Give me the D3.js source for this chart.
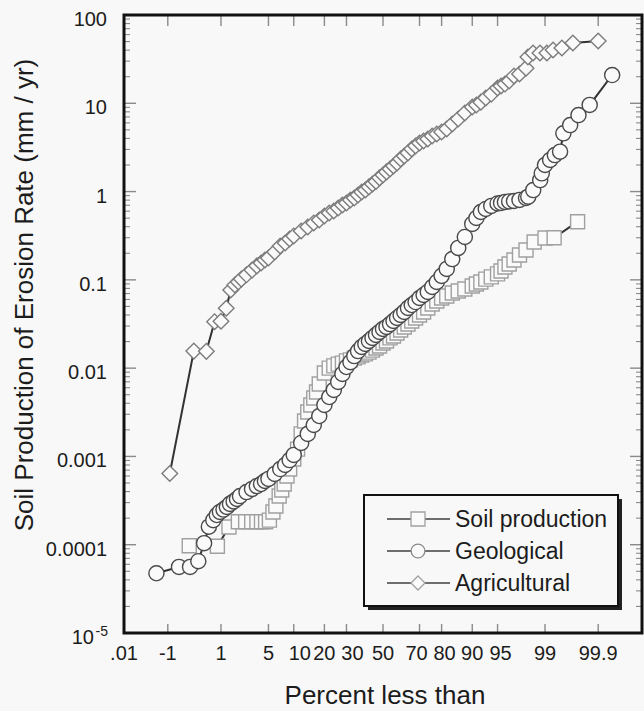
<!DOCTYPE html>
<html>
<head>
<meta charset="utf-8">
<script src="https://cdn.jsdelivr.net/npm/d3@7"></script>
<style>
  body { margin: 0; background: #f8f8f8; }
  text { font-family: "Liberation Sans", Arial, sans-serif; fill: #1c1c1c; }
</style>
</head>
<body>
<div id="chart"></div>
<script>
// ---- data (percent less than, erosion / production rate in mm/yr) ----
var soilPct = [0.27, 0.87, 1.35, 1.89, 2.43, 2.97, 3.51, 4.05, 4.59, 5.14,
  5.7, 6.2, 6.8, 7.3, 7.8, 8.4, 9, 10, 11, 12, 13, 14, 15, 16, 17, 18,
  20, 22, 24, 26, 28, 30, 32, 34, 36, 38, 40, 42, 44, 46, 48, 50, 52, 54, 56, 58,
  60, 62, 64, 66, 68, 70, 72, 74, 76, 78, 80, 82, 84, 86, 88,
  90, 91, 92, 93, 94, 95, 95.5, 96, 96.5, 97, 97.5, 98, 98.5, 99.0, 99.3, 99.74];
var soilVal = [9.75e-5, 9.6e-5, 1.59e-4, 1.82e-4, 1.82e-4, 1.82e-4, 1.82e-4, 1.82e-4, 1.82e-4, 1.9e-4,
  2.35e-4, 2.75e-4, 3.56e-4, 4.17e-4, 4.88e-4, 6.0e-4, 7.2e-4, 9.35e-4, 1.21e-3, 1.8e-3, 2.52e-3, 3.18e-3, 3.83e-3, 4.59e-3, 5.37e-3, 6.62e-3,
  8.8e-3, 0.01, 0.0106, 0.0111, 0.0114, 0.0121, 0.0124, 0.013, 0.0134, 0.0141, 0.0145, 0.0152, 0.016, 0.0169, 0.0178, 0.0193, 0.0203, 0.022, 0.0231, 0.025,
  0.027, 0.0292, 0.0316, 0.0342, 0.037, 0.040, 0.0433, 0.048, 0.0533, 0.0577, 0.0623, 0.0657, 0.071, 0.0748, 0.0788,
  0.0853, 0.0898, 0.0946, 0.102, 0.108, 0.117, 0.126, 0.14, 0.151, 0.168, 0.191, 0.218, 0.268, 0.298, 0.30, 0.456];

var geoPct = [0.057, 0.17, 0.28, 0.4, 0.51, 0.62, 0.74, 0.85,
  0.96, 1.1, 1.25, 1.4, 1.6, 1.8, 2.0, 2.5, 3, 3.5, 4, 4.5, 5, 6, 7, 8, 9, 10,
  12, 14, 16, 18, 20, 22, 24, 26, 28, 30, 32, 34, 36, 38, 40, 42, 44, 46, 48, 50,
  52, 54, 56, 58, 60, 62, 64, 66, 68, 70, 72, 74, 76, 78, 80, 82, 84, 86, 88,
  90, 91, 92, 93, 94, 95, 95.5, 96, 96.5, 97, 97.5, 98.0,
  98.15, 98.45, 98.8, 98.87, 99.0, 99.18, 99.32, 99.45, 99.52, 99.64, 99.75, 99.85, 99.95];
var geoVal = [4.75e-5, 5.6e-5, 5.6e-5, 6.5e-5, 1.04e-4, 1.6e-4, 1.9e-4, 2.17e-4,
  2.35e-4, 2.5e-4, 2.68e-4, 2.9e-4, 3.09e-4, 3.3e-4, 3.56e-4, 3.95e-4, 4.28e-4, 4.62e-4, 4.87e-4, 5.27e-4, 5.56e-4, 6.33e-4, 7.2e-4, 8.0e-4, 9.1e-4, 1.04e-3,
  1.42e-3, 1.8e-3, 2.27e-3, 2.87e-3, 3.83e-3, 4.71e-3, 5.66e-3, 6.97e-3, 8.6e-3, 0.0103, 0.0117, 0.0137, 0.0156, 0.0174, 0.0188, 0.0203, 0.022, 0.0238, 0.0257, 0.0278,
  0.0293, 0.0316, 0.0342, 0.037, 0.040, 0.0433, 0.048, 0.0519, 0.0561, 0.0623, 0.0674, 0.073, 0.083, 0.0946, 0.111, 0.133, 0.172, 0.230, 0.306,
  0.43, 0.502, 0.587, 0.635, 0.687, 0.733, 0.743, 0.762, 0.773, 0.782, 0.804, 0.846,
  0.875, 1.04, 1.35, 1.61, 2.0, 2.28, 2.59, 2.83, 4.57, 5.67, 7.36, 9.57, 20.9];

var agriPct = [0.11, 0.33, 0.56, 0.78, 1.0, 1.22, 1.44, 1.67, 1.89, 2.1,
  2.5, 3, 3.5, 4, 4.5, 5, 6, 7, 8, 9, 10,
  12, 14, 16, 18, 20, 22, 24, 26, 28, 30, 32, 34, 36, 38, 40, 42, 44, 46, 48, 50,
  52, 54, 56, 58, 60, 62, 64, 66, 68, 70, 72, 74, 76, 78, 80, 82, 84, 86, 88,
  90, 91, 92, 93, 94, 95, 95.5, 96, 96.5, 97, 97.5, 98.0,
  98.13, 98.44, 98.79, 99.07, 99.27, 99.49, 99.68, 99.9];
var agriVal = [0.00064, 0.0156, 0.0155, 0.0336, 0.034, 0.0476, 0.0768, 0.0875, 0.0946, 0.102,
  0.114, 0.129, 0.144, 0.155, 0.168, 0.177, 0.207, 0.242, 0.262, 0.290, 0.314,
  0.358, 0.397, 0.441, 0.477, 0.528, 0.572, 0.602, 0.652, 0.705, 0.743, 0.804, 0.846, 0.914, 0.99, 1.04, 1.13, 1.22, 1.30, 1.43, 1.54,
  1.67, 1.80, 1.95, 2.11, 2.34, 2.53, 2.74, 3.03, 3.28, 3.55, 3.74, 3.94, 4.26, 4.49, 4.73, 5.12, 5.82, 6.64, 7.76,
  9.08, 9.57, 10.3, 11.5, 12.7, 14.9, 15.7, 16.5, 17.9, 20.4, 21.5, 25,
  33.5, 37.1, 37.1, 37.1, 40.2, 42.3, 48.2, 50.8];

var xTickPct = [0.01, 0.1, 1, 5, 10, 20, 30, 50, 70, 80, 90, 95, 99, 99.9];
var xTickLabels = [".01", "-1", "1", "5", "10", "20", "30", "50", "70", "80", "90", "95", "99", "99.9"];
var yTickVals = [100, 10, 1, 0.1, 0.01, 0.001, 0.0001, 0.00001];
var yTickLabels = ["100", "10", "1", "0.1", "0.01", "0.001", "0.0001", "10"];

var seriesNames = ["Soil production", "Geological", "Agricultural"];

// set the dimensions and margins of the graph
var margin = { top: 15, right: 2, bottom: 78, left: 124 },
  width = 644 - margin.left - margin.right,
  height = 711 - margin.top - margin.bottom;

// inverse normal cdf (probability axis)
function probit(p) {
  var a = [-3.969683028665376e+01, 2.209460984245205e+02, -2.759285104469687e+02, 1.383577518672690e+02, -3.066479806614716e+01, 2.506628277459239e+00];
  var b = [-5.447609879822406e+01, 1.615858368580409e+02, -1.556989798598866e+02, 6.680131188771972e+01, -1.328068155288572e+01];
  var c = [-7.784894002430293e-03, -3.223964580411365e-01, -2.400758277161838e+00, -2.549732539343734e+00, 4.374664141464968e+00, 2.938163982698783e+00];
  var d = [7.784695709041462e-03, 3.224671290700398e-01, 2.445134137142996e+00, 3.754408661907416e+00];
  var plow = 0.02425, q, r;
  if (p < plow) {
    q = Math.sqrt(-2 * Math.log(p));
    return (((((c[0] * q + c[1]) * q + c[2]) * q + c[3]) * q + c[4]) * q + c[5]) / ((((d[0] * q + d[1]) * q + d[2]) * q + d[3]) * q + 1);
  }
  if (p > 1 - plow) {
    q = Math.sqrt(-2 * Math.log(1 - p));
    return -(((((c[0] * q + c[1]) * q + c[2]) * q + c[3]) * q + c[4]) * q + c[5]) / ((((d[0] * q + d[1]) * q + d[2]) * q + d[3]) * q + 1);
  }
  q = p - 0.5; r = q * q;
  return (((((a[0] * r + a[1]) * r + a[2]) * r + a[3]) * r + a[4]) * r + a[5]) * q / (((((b[0] * r + b[1]) * r + b[2]) * r + b[3]) * r + b[4]) * r + 1);
}

var z = d3.scaleLinear()
  .domain([probit(0.0001), probit(0.9999)])
  .range([0, width]);
function x(pct) { return z(probit(pct / 100)); }

var y = d3.scaleLog()
  .domain([1e-5, 100])
  .range([height, 0]);

var svg = d3.select("#chart")
  .append("svg")
  .attr("width", width + margin.left + margin.right)
  .attr("height", height + margin.top + margin.bottom)
  .style("background", "#f8f8f8");

var g = svg.append("g")
  .attr("transform", "translate(" + margin.left + "," + margin.top + ")");

// ticks
var tickCol = "#8a8a8a";
xTickPct.forEach(function (p) {
  g.append("line").attr("x1", x(p)).attr("x2", x(p)).attr("y1", height).attr("y2", height - 9)
    .attr("stroke", tickCol).attr("stroke-width", 1.4);
  g.append("line").attr("x1", x(p)).attr("x2", x(p)).attr("y1", 0).attr("y2", 11)
    .attr("stroke", tickCol).attr("stroke-width", 1.4);
});

var minorVals = [];
[1e-5, 1e-4, 1e-3, 1e-2, 1e-1, 1, 10].forEach(function (dec) {
  for (var k = 2; k <= 9; k++) minorVals.push(dec * k);
});
[[0, 1], [width, -1]].forEach(function (side) {
  yTickVals.forEach(function (v) {
    g.append("line").attr("x1", side[0]).attr("x2", side[0] + side[1] * 12)
      .attr("y1", y(v)).attr("y2", y(v)).attr("stroke", tickCol).attr("stroke-width", 1.4);
  });
  minorVals.forEach(function (v) {
    g.append("line").attr("x1", side[0]).attr("x2", side[0] + side[1] * 6)
      .attr("y1", y(v)).attr("y2", y(v)).attr("stroke", tickCol).attr("stroke-width", 1.1);
  });
});

// tick labels (a few nudged sideways so crowded labels don't collide, as in the original)
var labelNudge = { "10": 6, "30": 6, "70": -3, "80": 3, "95": 3 };
xTickPct.forEach(function (p, i) {
  g.append("text").attr("x", x(p) + (labelNudge[xTickLabels[i]] || 0)).attr("y", height + 27)
    .attr("text-anchor", "middle").style("font-size", "20px").text(xTickLabels[i]);
});
yTickVals.forEach(function (v, i) {
  var t = g.append("text").attr("x", -17).attr("y", y(v) + 11)
    .attr("text-anchor", "end").style("font-size", "20px");
  if (i === yTickVals.length - 1) {
    t.attr("x", -30).text(yTickLabels[i]);
    g.append("text").attr("x", -16).attr("y", y(v) + 3).attr("text-anchor", "end")
      .style("font-size", "14px").text("-5");
  } else {
    t.text(yTickLabels[i]);
  }
});

// marker shapes
var squarePath = d3.symbol().type(d3.symbolSquare).size(196)();
var circlePath = d3.symbol().type(d3.symbolCircle).size(180)();
function diamondPath(r) { return "M0," + (-r) + "L" + r + ",0L0," + r + "L" + (-r) + ",0Z"; }

var series = [
  { pct: soilPct, val: soilVal, path: squarePath, stroke: "#a0a0a0" },
  { pct: geoPct, val: geoVal, path: circlePath, stroke: "#4a4a4a" },
  { pct: agriPct, val: agriVal, path: diamondPath(7.8), stroke: "#7c7c7c" }
];

var line = d3.line()
  .x(function (d) { return x(d[0]); })
  .y(function (d) { return y(d[1]); });

series.forEach(function (s) {
  var pts = s.pct.map(function (p, i) { return [p, s.val[i]]; });
  g.append("path").datum(pts).attr("d", line)
    .attr("fill", "none").attr("stroke", "#333").attr("stroke-width", 2);
  g.selectAll(null).data(pts).enter().append("path")
    .attr("d", s.path)
    .attr("transform", function (d) { return "translate(" + x(d[0]) + "," + y(d[1]) + ")"; })
    .attr("fill", "#fafafa").attr("stroke", s.stroke).attr("stroke-width", 1.4);
});

// frame
g.append("rect").attr("width", width).attr("height", height)
  .attr("fill", "none").attr("stroke", "#111").attr("stroke-width", 3);

// legend
var lg = g.append("g").attr("transform", "translate(240,480)");
lg.append("rect").attr("x", 4).attr("y", 4).attr("width", 254).attr("height", 111).attr("fill", "#222");
lg.append("rect").attr("width", 254).attr("height", 111)
  .attr("fill", "#f8f8f8").attr("stroke", "#111").attr("stroke-width", 2);
var legendShapes = [squarePath, d3.symbol().type(d3.symbolCircle).size(150)(), diamondPath(7)];
var legendStroke = ["#a0a0a0", "#8a8a8a", "#a0a0a0"];
seriesNames.forEach(function (name, i) {
  var cy = 24 + i * 32;
  lg.append("line").attr("x1", 23).attr("x2", 86).attr("y1", cy).attr("y2", cy)
    .attr("stroke", "#6e6e6e").attr("stroke-width", 2);
  lg.append("path").attr("d", legendShapes[i]).attr("transform", "translate(54," + cy + ")")
    .attr("fill", "#fafafa").attr("stroke", legendStroke[i]).attr("stroke-width", 1.3);
  lg.append("text").attr("x", 91).attr("y", cy + 8).style("font-size", "23px").text(name);
});

// axis titles
svg.append("text")
  .attr("transform", "translate(33,295) rotate(-90)")
  .attr("text-anchor", "middle").style("font-size", "26px")
  .text("Soil Production of Erosion Rate (mm / yr)");

svg.append("text")
  .attr("x", 385).attr("y", 704)
  .attr("text-anchor", "middle").style("font-size", "26px")
  .text("Percent less than");
</script>
</body>
</html>
